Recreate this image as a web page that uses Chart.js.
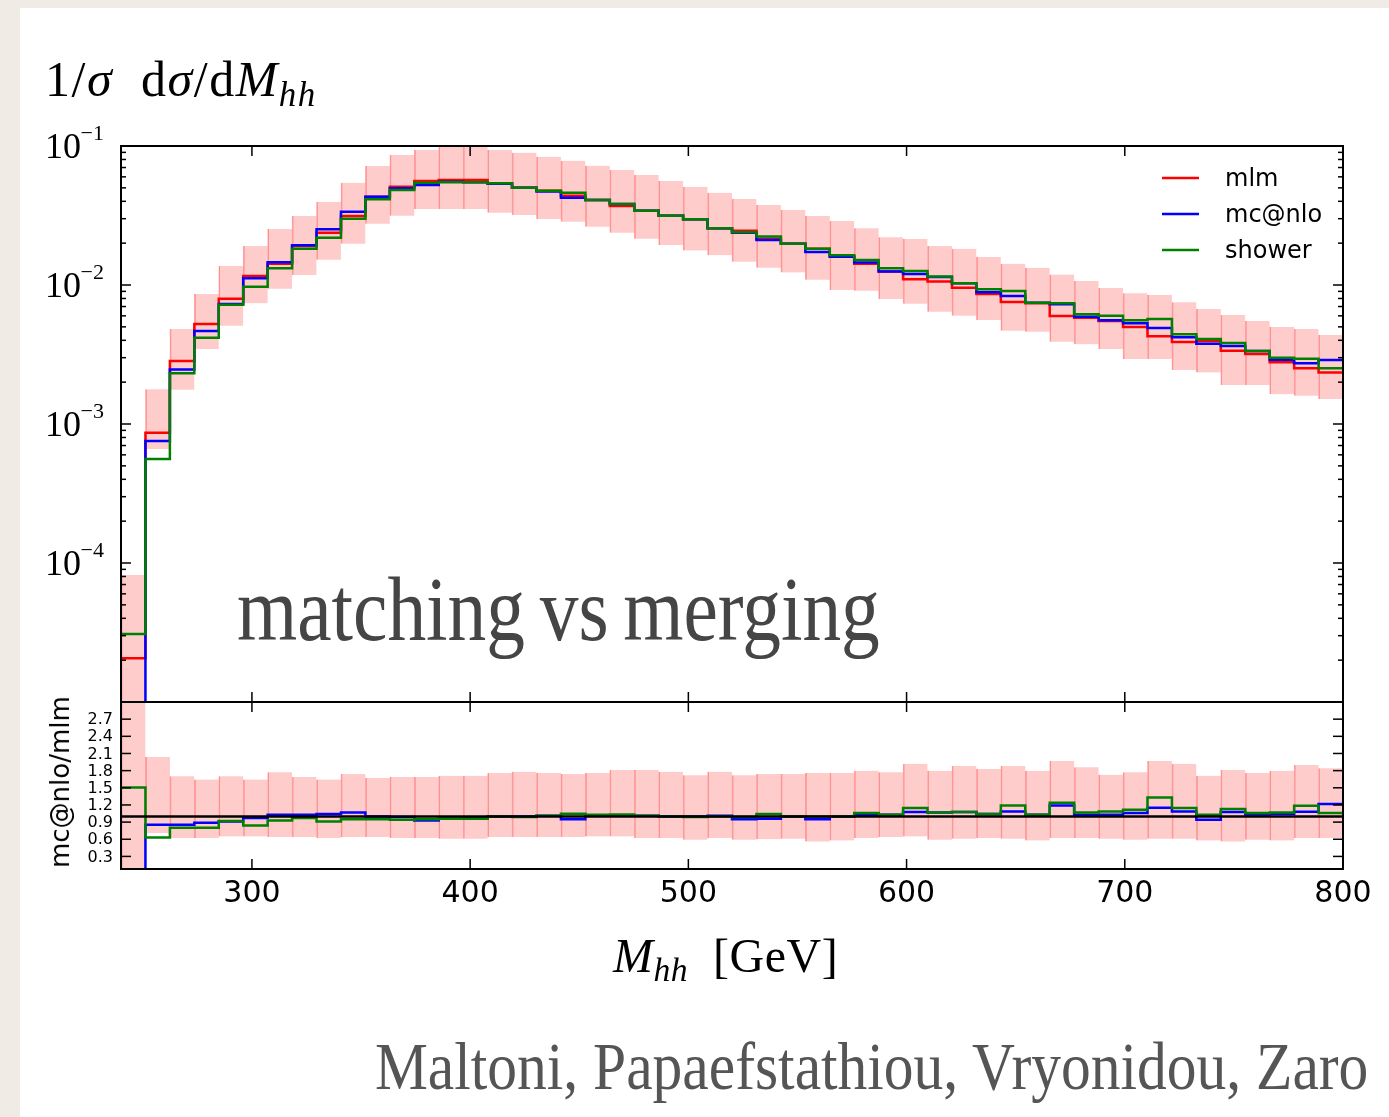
<!DOCTYPE html>
<html>
<head>
<meta charset="utf-8">
<title>matching vs merging</title>
<script src="https://cdn.jsdelivr.net/npm/chart.js@4.4.0/dist/chart.umd.min.js"></script>
<style>
  body { margin: 0; }
  #page { position: relative; width: 1389px; height: 1117px; background: #f0ece5; overflow: hidden; }
  #card { position: absolute; left: 20px; top: 8px; right: 0; bottom: 0; background: #fff; }
  canvas { position: absolute; left: 0; top: 0; }
  .txt { position: absolute; white-space: nowrap; line-height: 1; }
  .serif { font-family: 'Liberation Serif', 'DejaVu Serif', serif; }
  .sub { font-size: 0.7em; position: relative; top: 0.28em; }
  #ytitle { left: 45px; top: 54px; font-size: 50px; letter-spacing: 1.5px; }
  #xtitle { left: 613px; top: 932px; font-size: 48px; letter-spacing: 0.5px; }
  #rtitle { left: 60px; top: 782px; font-family: 'DejaVu Sans', sans-serif; font-size: 26px;
            transform: translate(-50%, -50%) rotate(-90deg); }
  #stamp { left: 237px; top: 565px; font-size: 90px; color: #454545;
           transform: scaleX(0.86); transform-origin: left top; word-spacing: -0.06em; }
  #authors { right: 21px; top: 1032px; font-size: 68px; color: #555;
             transform: scaleX(0.875); transform-origin: right top; }
</style>
</head>
<body>
<div id="page">
  <div id="card"></div>
  <canvas id="mainChart" width="1389" height="1117"></canvas>
  <canvas id="ratioChart" width="1389" height="1117"></canvas>
  <div id="ytitle" class="txt serif">1/<i>σ</i>&nbsp; d<i>σ</i>/d<i>M</i><span class="sub"><i>hh</i></span></div>
  <div id="xtitle" class="txt serif"><i>M</i><span class="sub"><i>hh</i></span>&nbsp; [GeV]</div>
  <div id="rtitle" class="txt">mc@nlo/mlm</div>
  <div id="stamp" class="txt serif">matching vs merging</div>
  <div id="authors" class="txt serif">Maltoni, Papaefstathiou, Vryonidou, Zaro</div>
</div>
<script>
// Binning: 50 bins of 11.2 GeV between 240 and 800 GeV
const binEdges = Array.from({ length: 51 }, (_, i) => 240 + 11.2 * i);

// 1/sigma dsigma/dMhh per bin
const mlm = [
  2.06e-5, 8.66e-4, 2.84e-3, 5.24e-3, 7.97e-3, 1.16e-2, 1.42e-2, 1.91e-2, 2.38e-2, 3.14e-2,
  4.32e-2, 5.09e-2, 5.60e-2, 5.69e-2, 5.69e-2, 5.39e-2, 5.01e-2, 4.77e-2, 4.39e-2, 4.09e-2,
  3.70e-2, 3.42e-2, 3.15e-2, 2.97e-2, 2.56e-2, 2.46e-2, 2.15e-2, 1.98e-2, 1.82e-2, 1.61e-2,
  1.42e-2, 1.25e-2, 1.10e-2, 1.06e-2, 9.56e-3, 8.62e-3, 7.54e-3, 7.38e-3, 5.98e-3, 5.82e-3,
  5.51e-3, 4.98e-3, 4.28e-3, 3.89e-3, 3.95e-3, 3.37e-3, 3.19e-3, 2.78e-3, 2.52e-3, 2.35e-3
];
const mcatnlo = [
  1e-7, 7.54e-4, 2.47e-3, 4.67e-3, 7.30e-3, 1.12e-2, 1.46e-2, 1.93e-2, 2.52e-2, 3.37e-2,
  4.32e-2, 4.96e-2, 5.24e-2, 5.54e-2, 5.48e-2, 5.35e-2, 5.01e-2, 4.70e-2, 4.25e-2, 4.09e-2,
  3.83e-2, 3.42e-2, 3.15e-2, 2.97e-2, 2.56e-2, 2.38e-2, 2.11e-2, 1.98e-2, 1.73e-2, 1.60e-2,
  1.45e-2, 1.25e-2, 1.20e-2, 1.14e-2, 1.03e-2, 8.86e-3, 8.34e-3, 7.46e-3, 7.27e-3, 5.92e-3,
  5.57e-3, 5.30e-3, 4.90e-3, 4.20e-3, 3.78e-3, 3.64e-3, 3.35e-3, 2.90e-3, 2.73e-3, 2.89e-3
];
const shower = [
  3.08e-5, 5.60e-4, 2.32e-3, 4.18e-3, 7.20e-3, 9.72e-3, 1.32e-2, 1.82e-2, 2.19e-2, 3.00e-2,
  4.14e-2, 4.83e-2, 5.44e-2, 5.48e-2, 5.48e-2, 5.39e-2, 5.01e-2, 4.77e-2, 4.61e-2, 4.09e-2,
  3.83e-2, 3.42e-2, 3.15e-2, 2.97e-2, 2.56e-2, 2.40e-2, 2.23e-2, 1.98e-2, 1.82e-2, 1.64e-2,
  1.51e-2, 1.32e-2, 1.26e-2, 1.15e-2, 1.03e-2, 9.31e-3, 9.05e-3, 7.46e-3, 7.38e-3, 6.15e-3,
  6.01e-3, 5.57e-3, 5.69e-3, 4.42e-3, 4.09e-3, 3.83e-3, 3.35e-3, 3.00e-3, 2.95e-3, 2.52e-3
];
// mlm uncertainty band (upper / lower edge per bin)
const mlmBandHi = [
  8.2e-5, 1.78e-3, 4.83e-3, 8.62e-3, 1.37e-2, 1.91e-2, 2.53e-2, 3.14e-2, 3.96e-2, 5.44e-2,
  7.18e-2, 8.62e-2, 9.36e-2, 9.9e-2, 9.9e-2, 9.36e-2, 8.95e-2, 8.38e-2, 7.84e-2, 7.22e-2,
  6.72e-2, 6.19e-2, 5.60e-2, 5.09e-2, 4.61e-2, 4.16e-2, 3.76e-2, 3.46e-2, 3.14e-2, 2.89e-2,
  2.56e-2, 2.21e-2, 2.14e-2, 1.91e-2, 1.82e-2, 1.59e-2, 1.42e-2, 1.33e-2, 1.19e-2, 1.07e-2,
  9.51e-3, 8.72e-3, 8.48e-3, 7.51e-3, 6.72e-3, 6.08e-3, 5.51e-3, 4.98e-3, 4.83e-3, 4.37e-3
];
const mlmBandLo = [
  1e-7, 6.61e-4, 1.76e-3, 3.46e-3, 5.09e-3, 7.38e-3, 9.41e-3, 1.18e-2, 1.52e-2, 1.98e-2,
  2.76e-2, 3.15e-2, 3.52e-2, 3.52e-2, 3.52e-2, 3.31e-2, 3.19e-2, 2.98e-2, 2.85e-2, 2.63e-2,
  2.38e-2, 2.15e-2, 1.94e-2, 1.77e-2, 1.64e-2, 1.47e-2, 1.33e-2, 1.23e-2, 1.09e-2, 9.21e-3,
  9.10e-3, 7.93e-3, 7.34e-3, 6.42e-3, 6.01e-3, 5.60e-3, 4.69e-3, 4.61e-3, 3.91e-3, 3.74e-3,
  3.46e-3, 2.93e-3, 2.93e-3, 2.45e-3, 2.35e-3, 1.91e-3, 1.91e-3, 1.64e-3, 1.60e-3, 1.51e-3
];

// Ratio panel (x / mlm)
const ratioMcatnlo = [
  0, 0.853, 0.853, 0.89, 0.91, 0.97, 1.03, 1.03, 1.04, 1.07,
  1.0, 0.99, 0.93, 0.96, 0.97, 1.0, 1.0, 1.01, 0.95, 1.01,
  1.01, 1.01, 1.0, 1.0, 1.01, 0.95, 0.96, 1.0, 0.95, 1.0,
  1.03, 1.03, 1.075, 1.07, 1.075, 1.04, 1.085, 1.03, 1.19, 1.03,
  1.03, 1.06, 1.15, 1.085, 0.94, 1.075, 1.035, 1.04, 1.08, 1.215
];
const ratioShower = [
  1.505, 0.63, 0.80, 0.80, 0.92, 0.84, 0.93, 0.97, 0.91, 0.95,
  0.95, 0.94, 0.95, 0.96, 0.96, 1.0, 0.99, 1.01, 1.045, 1.03,
  1.035, 1.01, 1.0, 0.99, 1.0, 0.99, 1.04, 1.0, 1.0, 1.0,
  1.06, 1.03, 1.145, 1.07, 1.075, 1.04, 1.19, 1.03, 1.24, 1.07,
  1.085, 1.115, 1.33, 1.145, 1.03, 1.13, 1.06, 1.07, 1.185, 1.06
];
const ratioBandHi = [
  3.5, 2.04, 1.70, 1.645, 1.70, 1.645, 1.77, 1.69, 1.645, 1.74,
  1.67, 1.69, 1.69, 1.71, 1.71, 1.76, 1.78, 1.76, 1.74, 1.76,
  1.81, 1.81, 1.78, 1.72, 1.78, 1.72, 1.74, 1.74, 1.76, 1.76,
  1.80, 1.77, 1.92, 1.80, 1.88, 1.83, 1.88, 1.80, 1.97, 1.86,
  1.73, 1.77, 1.97, 1.92, 1.71, 1.81, 1.76, 1.80, 1.90, 1.84
];
const ratioBandLo = [
  0, 0.71, 0.62, 0.62, 0.65, 0.65, 0.64, 0.64, 0.62, 0.64,
  0.64, 0.62, 0.62, 0.61, 0.61, 0.64, 0.64, 0.64, 0.64, 0.65,
  0.65, 0.62, 0.62, 0.59, 0.62, 0.59, 0.60, 0.61, 0.56, 0.58,
  0.62, 0.64, 0.65, 0.59, 0.61, 0.62, 0.61, 0.58, 0.62, 0.62,
  0.61, 0.59, 0.61, 0.61, 0.58, 0.56, 0.59, 0.58, 0.62, 0.62
];

// Ticks
const xTickValues = [300, 400, 500, 600, 700, 800];
const mainDecades = [-1, -2, -3, -4];
const ratioTickValues = [0.3, 0.6, 0.9, 1.2, 1.5, 1.8, 2.1, 2.4, 2.7];

const legendEntries = [
  { label: 'mlm', color: '#ff0000' },
  { label: 'mc@nlo', color: '#0000ff' },
  { label: 'shower', color: '#008000' }
];

const BAND_FILL = 'rgba(255, 0, 0, 0.2)';
const BAND_EDGE = 'rgba(255, 0, 0, 0.36)';

/**
 * Turn per-bin values into step-line points at the bin edges
 */
function stepPoints(values) {
  const pts = values.map((v, i) => ({ x: binEdges[i], y: v }));
  pts.push({ x: binEdges[values.length], y: values[values.length - 1] });
  return pts;
}

/**
 * Floating bars [lo, hi] centred on each bin
 */
function bandBars(lo, hi) {
  return lo.map((l, i) => ({ x: (binEdges[i] + binEdges[i + 1]) / 2, y: [l, hi[i]] }));
}

function stepDataset(label, values, color, order, width = 2.5) {
  return {
    type: 'line',
    label: label,
    data: stepPoints(values),
    borderColor: color,
    borderWidth: width,
    stepped: true,
    pointRadius: 0,
    fill: false,
    order: order
  };
}

function bandDataset(lo, hi) {
  return {
    type: 'bar',
    data: bandBars(lo, hi),
    backgroundColor: BAND_FILL,
    borderColor: BAND_EDGE,
    borderWidth: { left: 1, right: 0, top: 0, bottom: 0 },
    borderSkipped: false,
    barPercentage: 1,
    categoryPercentage: 1,
    order: 5
  };
}

function line(ctx, x1, y1, x2, y2) {
  ctx.beginPath();
  ctx.moveTo(x1, y1);
  ctx.lineTo(x2, y2);
  ctx.stroke();
}

// Inward ticks on all four sides, frame, labels and legend for the upper panel
const mainAxesPlugin = {
  id: 'mainAxes',
  afterDraw(chart) {
    const { ctx, chartArea: a, scales: { x, y } } = chart;
    ctx.save();
    ctx.strokeStyle = '#000';
    ctx.lineWidth = 1.5;
    xTickValues.forEach(v => {
      const px = x.getPixelForValue(v);
      line(ctx, px, a.bottom, px, a.bottom - 10);
      line(ctx, px, a.top, px, a.top + 10);
    });
    for (let d = -5; d <= -1; d++) {
      for (let m = 1; m <= 9; m++) {
        const py = y.getPixelForValue(m * Math.pow(10, d));
        if (py < a.top - 0.5 || py > a.bottom + 0.5) continue;
        const len = m === 1 ? 10 : 5;
        line(ctx, a.left, py, a.left + len, py);
        line(ctx, a.right, py, a.right - len, py);
      }
    }
    ctx.lineWidth = 2;
    ctx.strokeRect(a.left, a.top, a.width, a.height);

    // 10^n labels
    ctx.fillStyle = '#000';
    ctx.textAlign = 'right';
    ctx.textBaseline = 'alphabetic';
    mainDecades.forEach(d => {
      const py = y.getPixelForValue(Math.pow(10, d));
      ctx.font = '36px "Liberation Serif"';
      ctx.fillText('10', 81, py + 12);
      ctx.font = '22px "Liberation Serif"';
      ctx.fillText('\u2212' + Math.abs(d), 104, py - 6);
    });

    // legend
    ctx.font = '24px "DejaVu Sans"';
    ctx.textAlign = 'left';
    ctx.textBaseline = 'middle';
    legendEntries.forEach((e, i) => {
      const ly = 178 + i * 36;
      ctx.strokeStyle = e.color;
      ctx.lineWidth = 2.5;
      line(ctx, 1162, ly, 1199, ly);
      ctx.fillStyle = '#000';
      ctx.fillText(e.label, 1225, ly + 2);
    });
    ctx.restore();
  }
};

const ratioAxesPlugin = {
  id: 'ratioAxes',
  afterDraw(chart) {
    const { ctx, chartArea: a, scales: { x, y } } = chart;
    ctx.save();
    ctx.strokeStyle = '#000';
    ctx.lineWidth = 1.5;
    xTickValues.forEach(v => {
      const px = x.getPixelForValue(v);
      line(ctx, px, a.bottom, px, a.bottom - 10);
      line(ctx, px, a.top, px, a.top + 10);
    });
    ratioTickValues.forEach(v => {
      const py = y.getPixelForValue(v);
      line(ctx, a.left, py, a.left + 10, py);
      line(ctx, a.right, py, a.right - 10, py);
    });
    ctx.lineWidth = 2;
    ctx.strokeRect(a.left, a.top, a.width, a.height);

    ctx.fillStyle = '#000';
    ctx.font = '16px "DejaVu Sans"';
    ctx.textAlign = 'right';
    ctx.textBaseline = 'middle';
    ratioTickValues.forEach(v => {
      ctx.fillText(v.toFixed(1), 113, y.getPixelForValue(v) + 1);
    });

    ctx.font = '30px "DejaVu Sans"';
    ctx.textAlign = 'center';
    xTickValues.forEach(v => {
      ctx.fillText(String(v), x.getPixelForValue(v), a.bottom + 25);
    });
    ctx.restore();
  }
};

function baseOptions(yScale, padding) {
  return {
    responsive: false,
    animation: false,
    devicePixelRatio: 1,
    events: [],
    layout: { padding: padding },
    scales: {
      x: { type: 'linear', min: 240, max: 800, offset: false, display: false },
      y: yScale
    },
    plugins: { legend: { display: false }, tooltip: { enabled: false } }
  };
}

new Chart(document.getElementById('mainChart'), {
  type: 'bar',
  data: {
    datasets: [
      bandDataset(mlmBandLo, mlmBandHi),
      stepDataset('mlm', mlm, '#ff0000', 3),
      stepDataset('mc@nlo', mcatnlo, '#0000ff', 2),
      stepDataset('shower', shower, '#008000', 1)
    ]
  },
  options: baseOptions(
    { type: 'logarithmic', min: 1e-5, max: 1e-1, display: false },
    { left: 121, top: 146, right: 46, bottom: 415 }
  ),
  plugins: [mainAxesPlugin]
});

const unity = binEdges.map(() => 1).slice(0, 50);

new Chart(document.getElementById('ratioChart'), {
  type: 'bar',
  data: {
    datasets: [
      bandDataset(ratioBandLo, ratioBandHi),
      stepDataset('mc@nlo/mlm', ratioMcatnlo, '#0000ff', 3),
      stepDataset('shower/mlm', ratioShower, '#008000', 2),
      stepDataset('mlm/mlm', unity, '#000000', 1, 2.5)
    ]
  },
  options: baseOptions(
    { type: 'linear', min: 0.08, max: 3.0, display: false },
    { left: 121, top: 702, right: 46, bottom: 248 }
  ),
  plugins: [ratioAxesPlugin]
});
</script>
</body>
</html>
